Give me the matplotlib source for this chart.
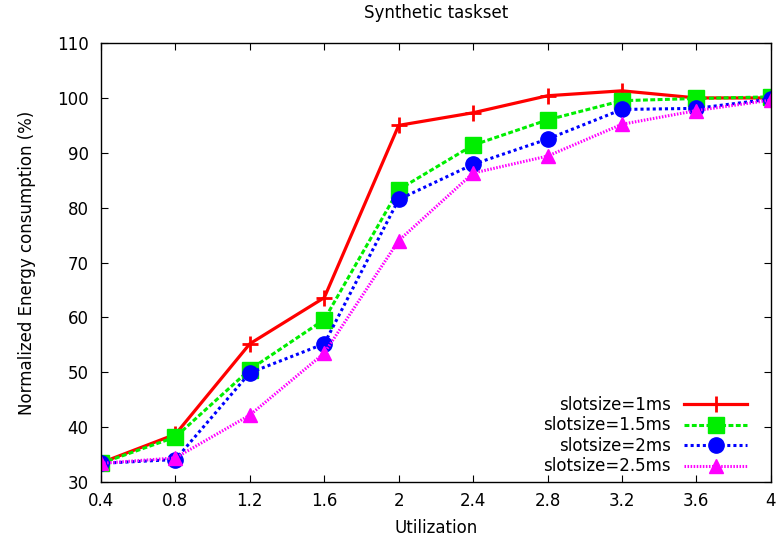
import matplotlib
matplotlib.use('Agg')
import matplotlib.pyplot as plt

plt.rcParams['font.family'] = ['DejaVu Sans']

util = [0.4, 0.8, 1.2, 1.6, 2.0, 2.4, 2.8, 3.2, 3.6, 4.0]
slot_1ms = [33.5, 38.7, 55.2, 63.6, 95.0, 97.3, 100.4, 101.3, 100.0, 100.0]
slot_15ms = [33.4, 38.2, 50.5, 59.6, 83.3, 91.4, 96.0, 99.5, 99.9, 100.2]
slot_2ms = [33.4, 34.1, 49.9, 55.2, 81.5, 87.9, 92.5, 97.9, 98.1, 99.8]
slot_25ms = [33.4, 34.4, 42.2, 53.5, 74.0, 86.3, 89.4, 95.2, 97.7, 99.6]
xticks = [0.4, 0.8, 1.2, 1.6, 2, 2.4, 2.8, 3.2, 3.6, 4]
xticklabels = ['0.4', '0.8', '1.2', '1.6', '2', '2.4', '2.8', '3.2', '3.6', '4']

fig = plt.figure(figsize=(7.77, 5.48), dpi=100)
ax = fig.add_axes([0.130, 0.1204, 0.862, 0.801])

ax.plot(util, slot_1ms, color='#ff0000', lw=2.3, ls='-', marker='+',
        ms=12, mew=2, label='slotsize=1ms')
ax.plot(util, slot_15ms, color='#00ee00', lw=2.2, ls=(0, (1.6, 0.8)), marker='s',
        ms=11.5, label='slotsize=1.5ms')
ax.plot(util, slot_2ms, color='#0000ff', lw=2.2, ls=(0, (1, 1)), marker='o',
        ms=11, label='slotsize=2ms')
ax.plot(util, slot_25ms, color='#ff00ff', lw=2.2, ls=(0, (0.5, 0.5)), marker='^',
        ms=10, label='slotsize=2.5ms')

ax.set_xlim(0.4, 4)
ax.set_ylim(30, 110)
ax.set_xticks(xticks)
ax.set_xticklabels(xticklabels)
ax.set_yticks(range(30, 111, 10))
ax.tick_params(direction='in', top=True, right=True, labelsize=12, length=5)
ax.tick_params(axis='x', pad=7)
ax.tick_params(axis='y', pad=9)
for s in ax.spines.values():
    s.set_linewidth(1.0)

ax.set_xlabel('Utilization', fontsize=12, labelpad=7)
ax.set_ylabel('Normalized Energy consumption (%)', fontsize=12, labelpad=15)
ax.set_title('Synthetic taskset', fontsize=12, pad=18)

leg = ax.legend(loc='lower right', bbox_to_anchor=(0.975, 0.0), frameon=False,
                markerfirst=False, fontsize=12, handlelength=3.8,
                labelspacing=0.15, borderaxespad=0, handletextpad=0.78)
for t in leg.get_texts():
    t.set_ha('right')

plt.savefig('out.png', dpi=100)
